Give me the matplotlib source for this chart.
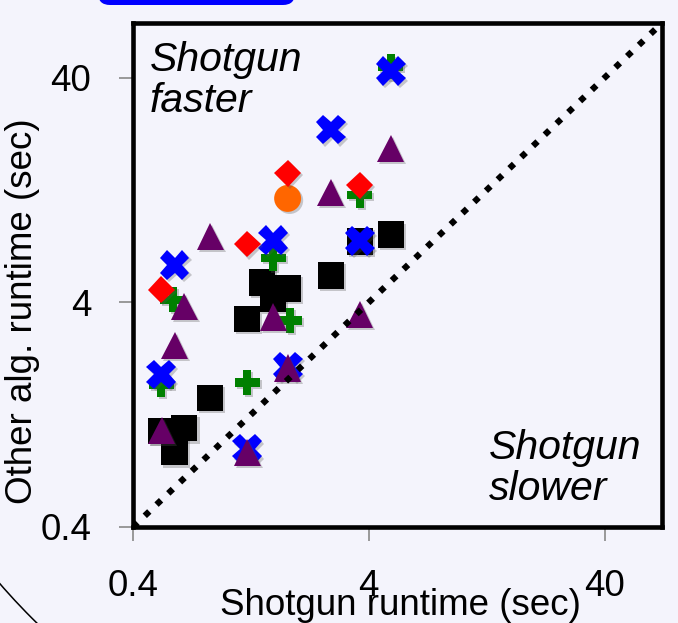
import matplotlib
matplotlib.use("Agg")
import matplotlib.pyplot as plt
import matplotlib.patheffects as pe
from matplotlib.patches import FancyBboxPatch, Circle
from matplotlib.transforms import IdentityTransform
from matplotlib.ticker import FixedLocator, NullLocator

plt.rcParams['font.family'] = ['Liberation Sans', 'DejaVu Sans']

# ---- data (Shotgun runtime, other algorithm runtime), seconds ----
square_x = [4.96, 3.66, 2.76, 1.41, 1.81, 1.57, 1.22, 0.85, 0.526, 0.66, 0.60]
square_y = [8.0, 7.46, 5.26, 4.90, 4.61, 4.16, 3.37, 1.50, 1.07, 1.10, 0.86]

plus_x = [4.96, 3.66, 1.57, 0.59, 1.85, 0.526, 1.22]
plus_y = [44.6, 12.0, 6.29, 4.10, 3.32, 1.72, 1.76]

cross_x = [4.96, 2.76, 1.57, 0.60, 3.66, 0.526, 1.81, 1.22]
cross_y = [42.8, 23.5, 7.57, 5.86, 7.5, 1.91, 2.07, 0.89]

circle_x = [1.81]
circle_y = [11.6]

diamond_x = [1.81, 3.66, 1.22, 0.526]
diamond_y = [15.0, 13.3, 7.27, 4.54]

tri_x = [4.96, 2.76, 0.85, 0.66, 1.57, 0.60, 1.81, 3.66, 0.53, 1.22]
tri_y = [19.4, 12.3, 7.85, 3.83, 3.44, 2.58, 2.04, 3.53, 1.08, 0.86]

axis_lo, axis_hi = 0.4, 70
tick_vals = [0.4, 4, 40]
tick_labels = ["0.4", "4", "40"]
xlabel = "Shotgun runtime (sec)"
ylabel = "Other alg. runtime (sec)"
note_faster = "Shotgun\nfaster"
note_slower = "Shotgun\nslower"

BG = '#F4F4FC'

fig = plt.figure(figsize=(6.78, 6.23), dpi=100, facecolor=BG)
ax = fig.add_axes([133/678, 1-527/623, (662-133)/678, (527-23)/623])
ax.set_facecolor(BG)
ax.set_xscale('log')
ax.set_yscale('log')
ax.set_xlim(axis_lo, axis_hi)
ax.set_ylim(axis_lo, axis_hi)

shadow = [pe.SimplePatchShadow(offset=(1.5, -1.5), shadow_rgbFace='#555555', alpha=0.3), pe.Normal()]

series = [
    (square_x, square_y, 's', '#000000', 19, 2),
    (plus_x, plus_y, 'P', '#008000', 18, 3),
    (cross_x, cross_y, 'X', '#0000FF', 21.5, 4),
    (circle_x, circle_y, 'o', '#FF6600', 19.4, 5),
    (diamond_x, diamond_y, 'D', '#FF0000', 13.7, 6),
    (tri_x, tri_y, '^', '#660066', 19.5, 7),
]
for xs, ys, m, c, ms, z in series:
    ax.plot(xs, ys, linestyle='none', marker=m, markersize=ms, color=c,
            markeredgewidth=0, zorder=z, path_effects=shadow)

# diagonal y = x
ax.plot([axis_lo, axis_hi], [axis_lo, axis_hi], color='black', linewidth=4.5,
        linestyle=(0, (1, 1.6)), dash_capstyle='butt', zorder=10)

for s in ax.spines.values():
    s.set_linewidth(3.3)
    s.set_color('black')

ax.xaxis.set_major_locator(FixedLocator(tick_vals))
ax.yaxis.set_major_locator(FixedLocator(tick_vals))
ax.xaxis.set_minor_locator(NullLocator())
ax.yaxis.set_minor_locator(NullLocator())
ax.set_xticklabels(tick_labels)
ax.set_yticklabels(tick_labels)
ax.tick_params(axis='both', which='major', direction='out', length=10, width=1.2,
               color='#888888', labelsize=26.5, pad=20, labelcolor='black')

ax.set_xlabel(xlabel, fontsize=26.5)
ax.xaxis.label.set_va('baseline')
ax.xaxis.set_label_coords(0.5057, -0.1746)
ax.set_ylabel(ylabel, fontsize=26.5)
ax.yaxis.set_label_coords(-0.176, 0.4286)

ax.text(0.032, 0.8234, note_faster, transform=ax.transAxes, fontsize=29.5,
        style='italic', ha='left', va='baseline', linespacing=1.1)
ax.text(0.673, 0.0536, note_slower, transform=ax.transAxes, fontsize=29.5,
        style='italic', ha='left', va='baseline', linespacing=1.1)

# decorative slide elements
fig.add_artist(FancyBboxPatch((98, 618), 197, 40, boxstyle='round,pad=0,rounding_size=12',
                              transform=IdentityTransform(), facecolor='#0000FF',
                              edgecolor='none', zorder=0))
fig.add_artist(Circle((500, 473), 662, transform=IdentityTransform(), fill=False,
                      edgecolor='black', linewidth=1.1, zorder=0))

fig.savefig('out.png', dpi=100, facecolor=BG)
